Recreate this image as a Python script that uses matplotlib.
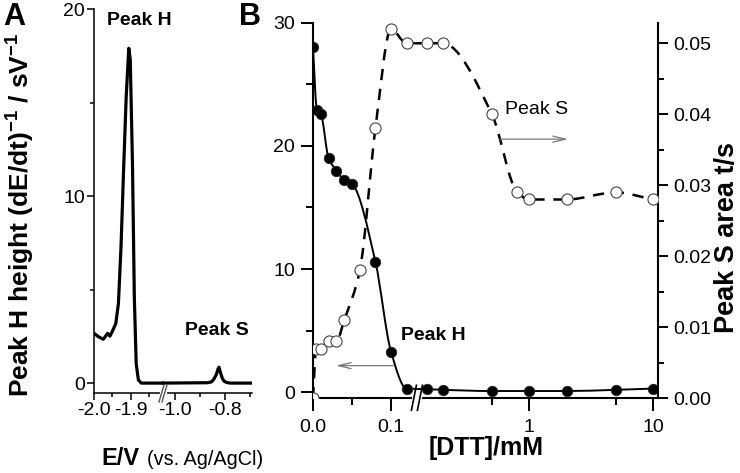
import numpy as np
import matplotlib
matplotlib.use("Agg")
import matplotlib.pyplot as plt
from matplotlib.path import Path
from matplotlib.patches import PathPatch

plt.rcParams['font.family'] = ['Liberation Sans', 'DejaVu Sans']
plt.rcParams['mathtext.fontset'] = 'custom'
plt.rcParams['mathtext.rm'] = 'Liberation Sans'
plt.rcParams['mathtext.bf'] = 'Liberation Sans:bold'
plt.rcParams['axes.unicode_minus'] = False

# ---------------- data: panel A (stripping trace) ----------------
E_low = [-2.0, -1.988, -1.975, -1.963, -1.957, -1.951, -1.941, -1.934, -1.927,
         -1.920, -1.913, -1.906, -1.902, -1.896, -1.891, -1.886, -1.880, -1.872, -1.813]
sig_low = [2.66, 2.48, 2.34, 2.66, 2.51, 2.74, 3.19, 4.26, 7.29,
           11.4, 15.3, 17.9, 17.3, 11.7, 4.6, 1.05, 0.16, 0.0, 0.0]
E_high = [-1.048, -0.87, -0.855, -0.845, -0.835, -0.828, -0.824, -0.819,
          -0.812, -0.805, -0.795, -0.78, -0.692]
sig_high = [0.0, 0.02, 0.06, 0.2, 0.45, 0.75, 0.85, 0.6, 0.3, 0.12, 0.04, 0.0, 0.0]
A_xticks = [-2.0, -1.9, -1.0, -0.8]
A_xticklabels = ["-2.0", "-1.9", "-1.0", "-0.8"]
A_xminor = [-1.95, -1.85, -0.9, -0.7]

# ---------------- data: panel B ----------------
dtt_H = [0, 0.005, 0.01, 0.02, 0.03, 0.04, 0.05, 0.08, 0.1, 0.12,
         0.15, 0.2, 0.5, 1, 2, 5, 10]
peak_H = [28.0, 22.9, 22.6, 19.0, 18.0, 17.2, 16.9, 10.6, 3.3, 0.3,
          0.25, 0.2, 0.1, 0.1, 0.1, 0.2, 0.3]
dtt_S = [0, 0.004, 0.01, 0.02, 0.03, 0.04, 0.06, 0.08, 0.1, 0.12,
         0.15, 0.2, 0.5, 0.8, 1, 2, 5, 10]
area_S = [0.0, 0.007, 0.007, 0.008, 0.008, 0.011, 0.018, 0.038, 0.052, 0.050,
          0.050, 0.050, 0.040, 0.029, 0.028, 0.028, 0.029, 0.028]
B_xticks = [0, 0.1, 1, 10]
B_xticklabels = ["0.0", "0.1", "1", "10"]
B_xminor = [0.05, 0.5, 5]

# ---------------- broken-axis scales ----------------
EL, ER, SL, SR, EPS = -1.8135, -1.048, 370.0, 250.0, 1e-3
uL = (EL + 2.0) * SL
uR0 = uL + (ER - EL) * EPS


def fA(E):
    E = np.asarray(E, float)
    return np.where(E <= EL, (E + 2.0) * SL,
                    np.where(E >= ER, uR0 + (E - ER) * SR, uL + (E - EL) * EPS))


def iA(u):
    u = np.asarray(u, float)
    return np.where(u <= uL, u / SL - 2.0,
                    np.where(u >= uR0, ER + (u - uR0) / SR, EL + (u - uL) / EPS))


XB, U1, DEC = 0.13, 2.773, 1.590
ULOG = U1 + DEC * np.log10(XB)


def fB(x):
    x = np.asarray(x, float)
    lg = U1 + DEC * np.log10(np.clip(x, 1e-9, None))
    return np.where(x <= XB, x * 10.0, lg)


def iB(u):
    u = np.asarray(u, float)
    return np.where(u <= XB * 10.0, u / 10.0,
                    np.where(u >= ULOG, 10 ** ((u - U1) / DEC), XB))


def smooth_path(xs, ys, fwd, inv):
    u = fwd(np.asarray(xs, float))
    y = np.asarray(ys, float)
    h = np.diff(u)
    d = np.diff(y) / h
    n = len(u)
    m = np.zeros(n)
    m[0], m[-1] = d[0], d[-1]
    for i in range(1, n - 1):
        if d[i - 1] * d[i] <= 0:
            m[i] = 0.0
        else:
            w1 = 2 * h[i] + h[i - 1]
            w2 = h[i] + 2 * h[i - 1]
            m[i] = (w1 + w2) / (w1 / d[i - 1] + w2 / d[i])
    verts = [(u[0], y[0])]
    codes = [Path.MOVETO]
    for i in range(n - 1):
        verts += [(u[i] + h[i] / 3, y[i] + m[i] * h[i] / 3),
                  (u[i + 1] - h[i] / 3, y[i + 1] - m[i + 1] * h[i] / 3),
                  (u[i + 1], y[i + 1])]
        codes += [Path.CURVE4] * 3
    verts = np.array(verts)
    verts[:, 0] = inv(verts[:, 0])
    return Path(verts, codes)


W, H = 740, 473
fig = plt.figure(figsize=(W / 100, H / 100), dpi=100)

# ---------------- Panel A ----------------
axA = fig.add_axes([94 / W, (H - 393) / H, 158 / W, 384 / H])
axA.set_xscale('function', functions=(fA, iA))
axA.plot(E_low, sig_low, color='black', lw=2.3, solid_joinstyle='round')
axA.plot(E_high, sig_high, color='black', lw=2.3, solid_joinstyle='round')
axA.set_xlim(-2.0, -0.692)
axA.set_ylim(-0.53, 20)
axA.set_xticks(A_xticks, A_xticklabels)
axA.set_xticks(A_xminor, minor=True)
axA.set_yticks([0, 10, 20])
axA.set_yticks([5, 15], minor=True)
for s in ['top', 'right']:
    axA.spines[s].set_visible(False)
for s in ['left', 'bottom']:
    axA.spines[s].set_linewidth(1.1)
axA.tick_params(which='major', direction='out', length=5, width=1.1, labelsize=14, pad=1.5)
axA.tick_params(which='minor', direction='out', length=3, width=1.1)
axA.set_ylabel(r'Peak H height (dE/dt)$^{\mathbf{-1}}$ / sV$^{\mathbf{-1}}$',
               fontsize=19, fontweight='bold', va='center')
axA.yaxis.set_label_coords(-0.47, 0.465)
axA.text(0.285, 0.969, 'Peak H', transform=axA.transAxes, fontsize=14,
         fontweight='bold', ha='center', va='center')
axA.text(0.778, 0.164, 'Peak S', transform=axA.transAxes, fontsize=14,
         fontweight='bold', ha='center', va='center')
# break mark on panel A axis
bxA = (163 - 94) / 158
pxA, pyA = 1 / 158, 1 / 384
axA.plot([bxA - 1.5 * pxA, bxA + 1.5 * pxA], [0, 0], transform=axA.transAxes,
         color='white', lw=3, clip_on=False, zorder=5)
for off in (-1.5, 1.5):
    axA.plot([bxA + (off - 2.5) * pxA, bxA + (off + 2.5) * pxA], [-9 * pyA, 8 * pyA],
             transform=axA.transAxes, color='#555555', lw=1.0, clip_on=False, zorder=6)

fig.text(101 / W, 1 - 458 / H, 'E/V', fontsize=17, fontweight='bold', ha='left', va='center')
fig.text(147 / W, 1 - 459 / H, '(vs. Ag/AgCl)', fontsize=14.3, ha='left', va='center')

# ---------------- Panel B ----------------
axB = fig.add_axes([313 / W, (H - 398.3) / H, 345.3 / W, 375.6 / H])
axB.set_xscale('function', functions=(fB, iB))
axB.set_xlim(0, 10.97)
axB.set_ylim(-0.49, 30)
ax2 = axB.twinx()
ax2.set_ylim(0, 0.0529)

# Peak H (left axis)
axB.add_patch(PathPatch(smooth_path(dtt_H, peak_H, fB, iB), fill=False,
                        edgecolor='black', lw=1.4, zorder=3))
axB.plot(dtt_H, peak_H, 'o', ms=7.5, mfc='black', mec='#222222', mew=0.6, zorder=4)

# Peak S (right axis)
ax2.add_patch(PathPatch(smooth_path(dtt_S, area_S, fB, iB), fill=False,
                        edgecolor='black', lw=1.8, linestyle=(0, (4.5, 3.5)), zorder=3))
ax2.plot(dtt_S, area_S, 'o', ms=8, mfc='white', mec='#444444', mew=0.8, zorder=4)

axB.set_xticks(B_xticks, B_xticklabels)
axB.set_xticks(B_xminor, minor=True)
axB.set_yticks([0, 10, 20, 30])
axB.set_yticks([5, 15, 25], minor=True)
ax2.set_yticks([0, 0.01, 0.02, 0.03, 0.04, 0.05],
               ["0.00", "0.01", "0.02", "0.03", "0.04", "0.05"])
ax2.set_yticks([0.005, 0.015, 0.025, 0.035, 0.045], minor=True)

for a in (axB, ax2):
    a.spines['top'].set_visible(False)
    for s in ['left', 'bottom', 'right']:
        a.spines[s].set_linewidth(1.5)
axB.spines['right'].set_visible(False)
ax2.spines['left'].set_visible(False)
ax2.spines['bottom'].set_visible(False)

axB.tick_params(axis='x', which='major', direction='out', length=9, width=1.4, labelsize=14, pad=6)
axB.tick_params(axis='x', which='minor', direction='out', length=4.8, width=1.4)
axB.tick_params(axis='y', which='major', direction='out', length=9, width=1.4, labelsize=14, pad=4)
axB.tick_params(axis='y', which='minor', direction='out', length=4.8, width=1.4)
ax2.tick_params(axis='y', which='major', direction='out', length=7.5, width=1.4, labelsize=14, pad=3)
ax2.tick_params(axis='y', which='minor', direction='out', length=4, width=1.4)

axB.set_xlabel('[DTT]/mM', fontsize=18, fontweight='bold', va='center')
axB.xaxis.set_label_coords(0.5, -0.132)
ax2.set_ylabel('Peak S area t/s', fontsize=19.5, fontweight='bold', va='center', rotation=90)
ax2.yaxis.set_label_coords(1.199, 0.427)

# arrows
ax2.annotate('', xy=(2.05, 0.0365), xytext=(0.58, 0.0365),
             arrowprops=dict(arrowstyle='->,head_length=0.9,head_width=0.22',
                             color='#777777', lw=0.9, shrinkA=0, shrinkB=0))
axB.annotate('', xy=(0.0295, 2.16), xytext=(0.103, 2.16),
             arrowprops=dict(arrowstyle='->,head_length=0.9,head_width=0.22',
                             color='#777777', lw=0.9, shrinkA=0, shrinkB=0))

ax2.text(0.646, 0.770, 'Peak S', transform=ax2.transAxes, fontsize=14,
         ha='center', va='center')
ax2.text(0.3475, 0.166, 'Peak H', transform=ax2.transAxes, fontsize=14,
         fontweight='bold', ha='center', va='center')

# break mark on panel B axis
span = fB(10.97) - fB(0)
bxB = (0.5 * (XB * 10 + ULOG)) / span
pxB, pyB = 1 / 345.3, 1 / 375.6
ax2.plot([bxB - 3 * pxB, bxB + 3 * pxB], [0, 0], transform=ax2.transAxes,
         color='white', lw=3, clip_on=False, zorder=5)
for off in (-3, 3):
    ax2.plot([bxB + (off - 2.5) * pxB, bxB + (off + 2.5) * pxB], [-12 * pyB, 13 * pyB],
             transform=ax2.transAxes, color='black', lw=1.2, clip_on=False, zorder=6)

fig.text(14 / W, 1 - 17 / H, 'A', fontsize=22, fontweight='bold', ha='center', va='center')
fig.text(250 / W, 1 - 17 / H, 'B', fontsize=22, fontweight='bold', ha='center', va='center')

fig.savefig('out.png', dpi=100)
